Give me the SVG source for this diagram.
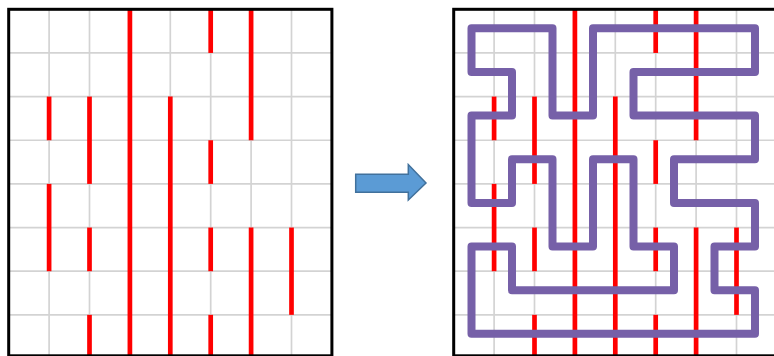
<svg xmlns="http://www.w3.org/2000/svg" xmlns:xlink="http://www.w3.org/1999/xlink" width="774" height="356" viewBox="0 0 774 356">
  <style>
    .grid line { stroke: #D3D3D3; stroke-width: 1.7; }
    .red line { stroke: #FF0000; stroke-width: 4.7; }
    .frame { fill: none; stroke: #000000; stroke-width: 3; }
    .route { fill: none; stroke: #7660A8; stroke-width: 8; stroke-linejoin: round; }
    .arrow { fill: #5B9BD5; stroke: #41719C; stroke-width: 1.5; }
  </style>
  <defs>
    <g id="board">
      <g class="grid">
        <line x1="49.1" y1="9" x2="49.1" y2="356"/>
        <line x1="89.5" y1="9" x2="89.5" y2="356"/>
        <line x1="129.9" y1="9" x2="129.9" y2="356"/>
        <line x1="170.3" y1="9" x2="170.3" y2="356"/>
        <line x1="210.7" y1="9" x2="210.7" y2="356"/>
        <line x1="251.1" y1="9" x2="251.1" y2="356"/>
        <line x1="291.5" y1="9" x2="291.5" y2="356"/>
        <line x1="9" y1="52.95" x2="331" y2="52.95"/>
        <line x1="9" y1="96.6" x2="331" y2="96.6"/>
        <line x1="9" y1="140.25" x2="331" y2="140.25"/>
        <line x1="9" y1="183.9" x2="331" y2="183.9"/>
        <line x1="9" y1="227.55" x2="331" y2="227.55"/>
        <line x1="9" y1="271.2" x2="331" y2="271.2"/>
        <line x1="9" y1="314.85" x2="331" y2="314.85"/>
      </g>
      <g class="red">
        <line x1="49.1" y1="96.6" x2="49.1" y2="140.25"/>
        <line x1="49.1" y1="183.9" x2="49.1" y2="271.2"/>
        <line x1="89.5" y1="96.6" x2="89.5" y2="183.9"/>
        <line x1="89.5" y1="227.55" x2="89.5" y2="271.2"/>
        <line x1="89.5" y1="314.85" x2="89.5" y2="356"/>
        <line x1="129.9" y1="8" x2="129.9" y2="356"/>
        <line x1="170.3" y1="96.6" x2="170.3" y2="356"/>
        <line x1="210.7" y1="8" x2="210.7" y2="52.95"/>
        <line x1="210.7" y1="140.25" x2="210.7" y2="183.9"/>
        <line x1="210.7" y1="227.55" x2="210.7" y2="271.2"/>
        <line x1="210.7" y1="314.85" x2="210.7" y2="356"/>
        <line x1="251.1" y1="8" x2="251.1" y2="140.25"/>
        <line x1="251.1" y1="227.55" x2="251.1" y2="356"/>
        <line x1="291.5" y1="227.55" x2="291.5" y2="314.85"/>
      </g>
    </g>
  </defs>

  <g id="left-board">
    <use xlink:href="#board" href="#board"/>
    <rect class="frame" x="8.7" y="9.3" width="323.2" height="346.5"/>
  </g>

  <g id="arrow">
    <polygon class="arrow" points="355.7,174.3 408.3,174.3 408.3,164.5 426,183 408.3,200 408.3,192.3 355.7,192.3"/>
  </g>

  <g id="right-board">
    <use xlink:href="#board" href="#board" x="445"/>
    <rect class="frame" x="453.7" y="9.3" width="330" height="346.5"/>
    <path class="route" d="M471.5,28.3 H552.5 V115.6 H593 V28.3 H755 V71.95 H633.5 V115.6 H755 V159.25 H674 V202.9 H755 V246.55 H714.5 V290.2 H755 V333.85 H471.5 V246.55 H512 V290.2 H674 V246.55 H633.5 V159.25 H593 V246.55 H552.5 V159.25 H512 V202.9 H471.5 V115.6 H512 V71.95 H471.5 Z"/>
  </g>
</svg>
